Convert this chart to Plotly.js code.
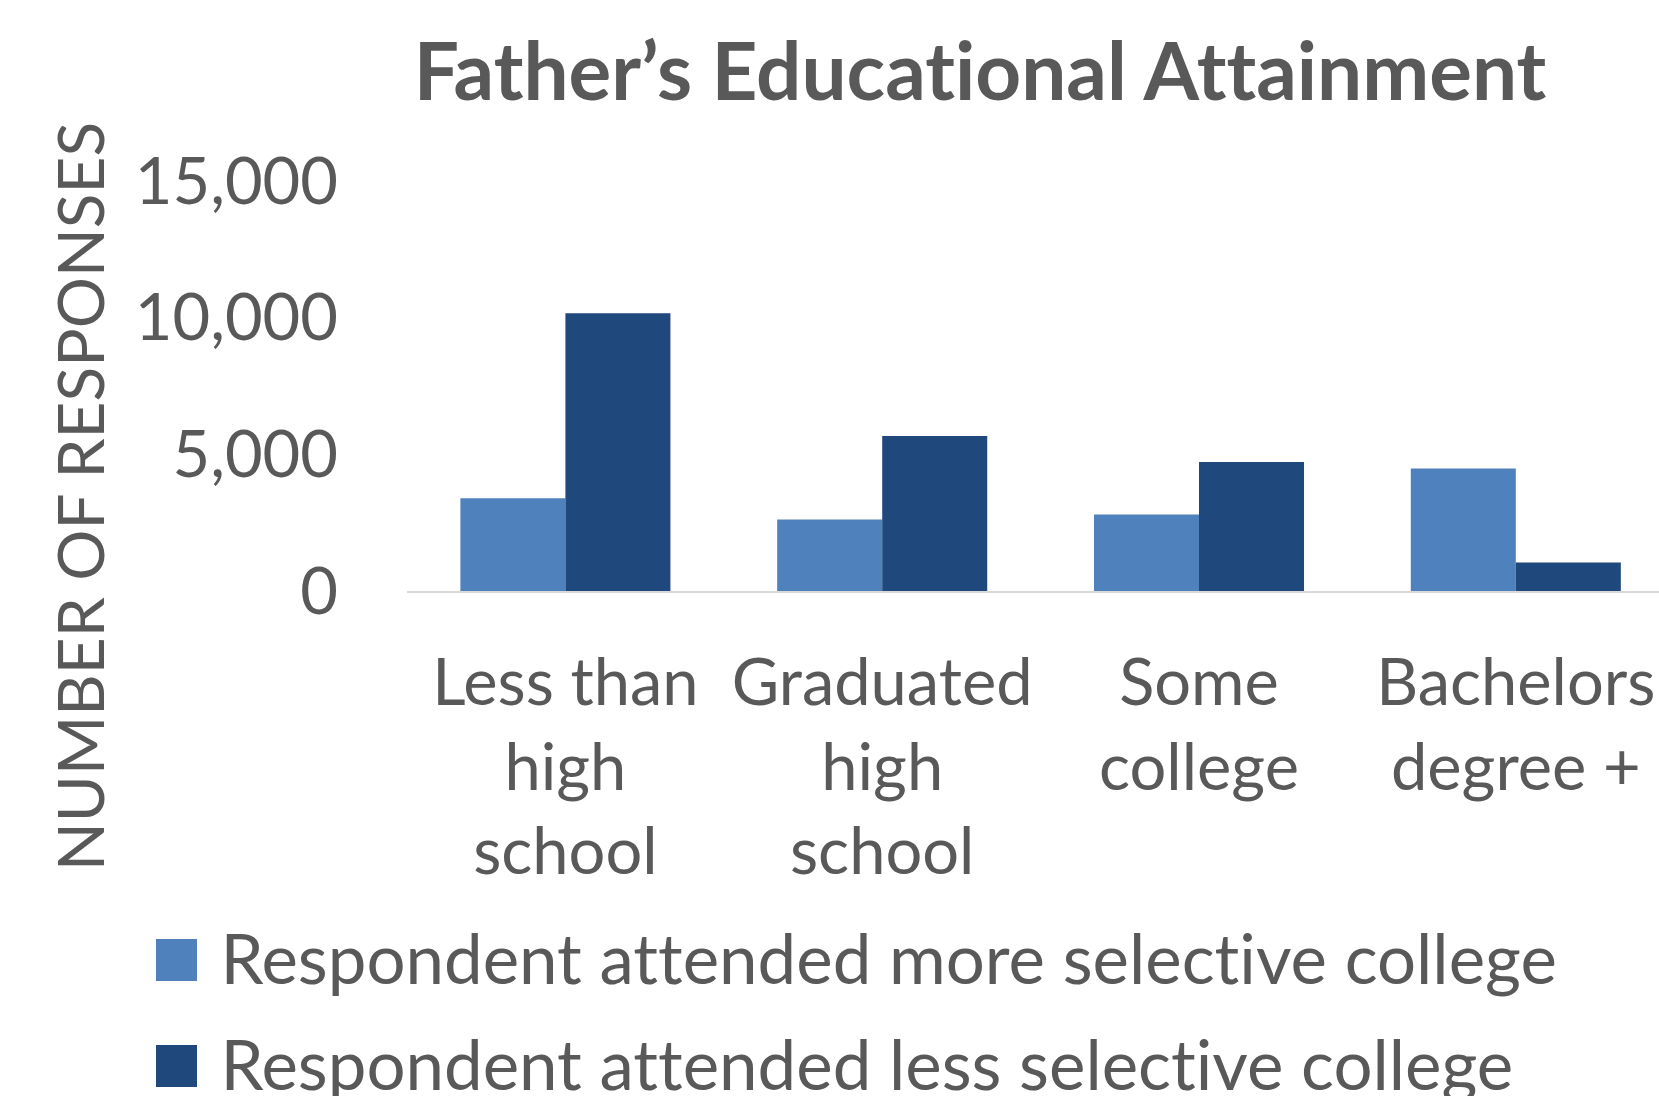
<!DOCTYPE html>
<html>
<head>
<meta charset="utf-8">
<script src="https://cdn.plot.ly/plotly-3.0.1.min.js"></script>
<style>
  html, body { margin: 0; padding: 0; background: #ffffff; overflow: hidden; }
  #chart { width: 1659px; height: 1096px; }
  #chart svg text { font-variant-ligatures: none; font-feature-settings: "liga" 0, "clig" 0; }
</style>
</head>
<body>
<div id="chart"></div>
<script>
// Father's educational attainment, by selectivity of the college the respondent attended
const categories = [
  'Less than<br>high<br>school',
  'Graduated<br>high<br>school',
  'Some<br>college',
  'Bachelors<br>degree +'
];
const moreSelective = [3390, 2620, 2800, 4480];
const lessSelective = [10160, 5670, 4720, 1040];
const seriesNames = [
  'Respondent attended more selective college',
  'Respondent attended less selective college'
];
const yTicks = [0, 5000, 10000, 15000];

// Styling
const COLOR_MORE = '#4f81bd';
const COLOR_LESS = '#1f497d';
const TEXT = '#595959';
const FONT = 'Lato, "Open Sans", sans-serif';

const W = 1659, H = 1096;
const M = { l: 407, r: 0, t: 181, b: 505, pad: 0 };
const plotW = W - M.l - M.r;
const plotH = H - M.t - M.b;
// pixel -> paper coordinates for the decorations outside the plot area
const px = x => (x - M.l) / plotW;
const py = y => (H - M.b - y) / plotH;

const traces = [
  { type: 'bar', x: categories, y: moreSelective, name: seriesNames[0],
    marker: { color: COLOR_MORE }, hoverinfo: 'x+y' },
  { type: 'bar', x: categories, y: lessSelective, name: seriesNames[1],
    marker: { color: COLOR_LESS }, hoverinfo: 'x+y' }
];

// Legend: large swatches with their labels underneath the chart
const legendRows = [
  { name: seriesNames[0], color: COLOR_MORE, top: 939, bottom: 981 },
  { name: seriesNames[1], color: COLOR_LESS, top: 1045, bottom: 1087 }
];
const shapes = legendRows.map(r => ({
  type: 'rect', xref: 'paper', yref: 'paper',
  x0: px(156), x1: px(197), y0: py(r.bottom), y1: py(r.top),
  fillcolor: r.color, line: { width: 0 }
}));
const annotations = legendRows.map(r => ({
  xref: 'paper', yref: 'paper', x: px(219), y: py((r.top + r.bottom) / 2 - 3),
  xanchor: 'left', yanchor: 'middle', showarrow: false, text: r.name,
  font: { family: FONT, size: 69, color: TEXT }
}));
// vertical axis title, centred on the whole figure height rather than the plot
annotations.push({
  xref: 'paper', yref: 'paper', x: px(79), y: py(497),
  xanchor: 'center', yanchor: 'middle', showarrow: false, textangle: -90,
  text: 'NUMBER OF RESPONSES',
  font: { family: FONT, size: 64, color: TEXT }
});

const layout = {
  width: W, height: H,
  margin: M,
  paper_bgcolor: '#ffffff', plot_bgcolor: '#ffffff',
  showlegend: false,
  barmode: 'group', bargap: 0.337, bargroupgap: 0,
  title: {
    text: '<b>Father\u2019s Educational Attainment</b>',
    xref: 'container', yref: 'container',
    x: 980 / W, xanchor: 'center',
    y: 1 - 72 / H, yanchor: 'middle',
    font: { family: FONT, size: 80, color: TEXT }
  },
  xaxis: {
    type: 'category', range: [-0.5, 3.452],
    showline: true, linecolor: '#d9d9d9', linewidth: 2,
    showgrid: false, ticks: '', ticklabelstandoff: 34,
    tickfont: { family: FONT, size: 65, color: TEXT },
    fixedrange: true
  },
  yaxis: {
    range: [0, 15000], tickvals: yTicks, tickformat: ',d',
    showline: false, showgrid: false, zeroline: false,
    ticks: '', ticklabelstandoff: 68,
    tickfont: { family: FONT, size: 65, color: TEXT },
    fixedrange: true
  },
  shapes: shapes,
  annotations: annotations
};

Plotly.newPlot('chart', traces, layout, { displayModeBar: false, staticPlot: true });
</script>
</body>
</html>
